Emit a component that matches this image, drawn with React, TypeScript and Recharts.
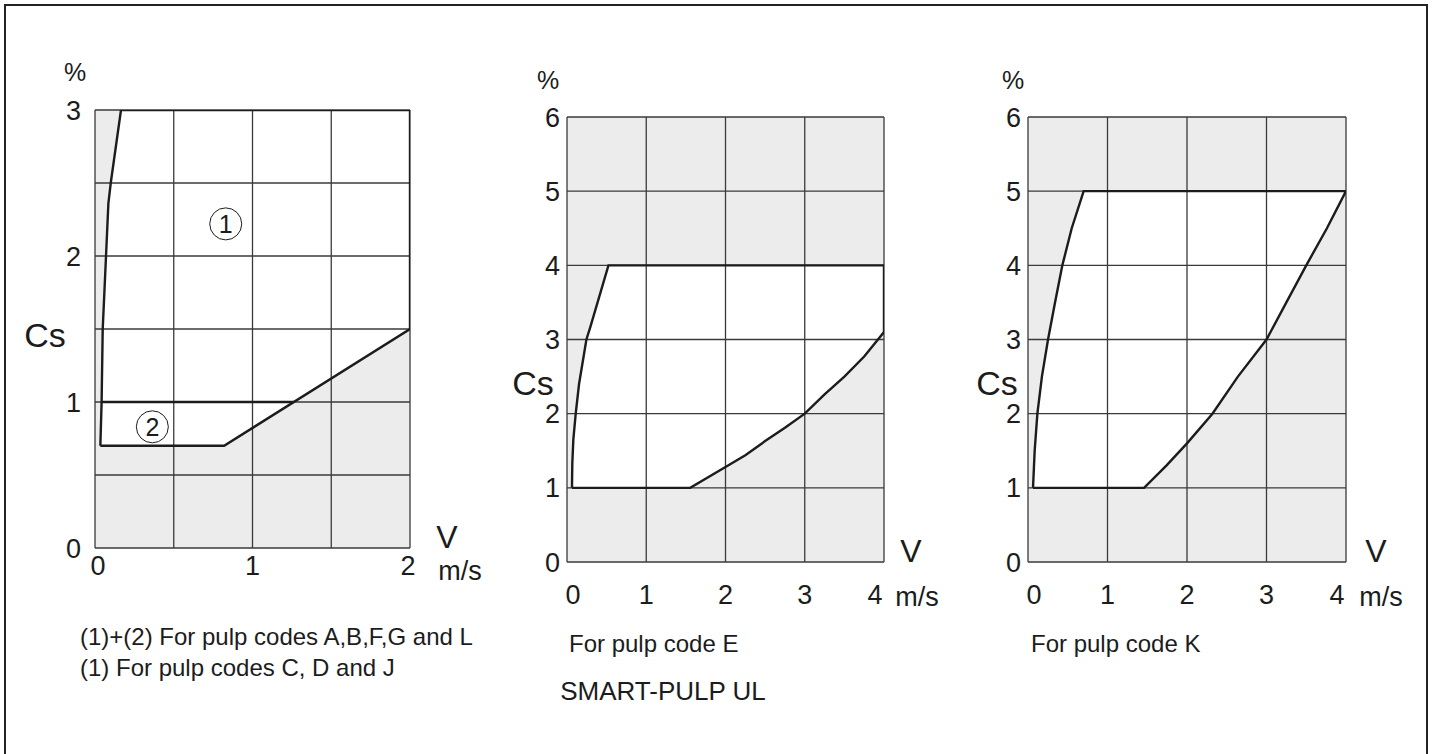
import React from "react";
import {
  ComposedChart,
  Area,
  Line,
  XAxis,
  YAxis,
  CartesianGrid,
  ReferenceLine,
  ReferenceDot,
} from "recharts";

const FONT = "'Liberation Sans', Arial, sans-serif";
const INK = "#1c1c1c";
const GRID = "#3a3a3a";
const SHADE = "#ececec";
const TICK = 27;

type BandPt = { v: number; lo: number; hi: number };

// panel 1 - V 0..2 m/s, Cs 0..3 %
const p1XTicks = [0, 1, 2];
const p1YTicks = [0, 1, 2, 3];
const p1XGrid = [0, 0.5, 1, 1.5, 2];
const p1YGrid = [0, 0.5, 1, 1.5, 2, 2.5, 3];
const p1Band: BandPt[] = [
  { v: 0.034, lo: 0.7, hi: 0.7 },
  { v: 0.042, lo: 0.7, hi: 1.0 },
  { v: 0.049, lo: 0.7, hi: 1.5 },
  { v: 0.07, lo: 0.7, hi: 2.0 },
  { v: 0.085, lo: 0.7, hi: 2.36 },
  { v: 0.1, lo: 0.7, hi: 2.5 },
  { v: 0.165, lo: 0.7, hi: 3.0 },
  { v: 0.82, lo: 0.7, hi: 3.0 },
  { v: 2.0, lo: 1.5, hi: 3.0 },
];
// border between zone (1) and zone (2)
const p1Divider = [
  { v: 0.042, cs: 1.0 },
  { v: 1.265, cs: 1.0 },
];
const p1Zones = [
  { v: 0.83, cs: 2.22, name: "1" },
  { v: 0.364, cs: 0.83, name: "2" },
];

// panel 2 - pulp code E, V 0..4 m/s, Cs 0..6 %
const p2XTicks = [0, 1, 2, 3, 4];
const p2YTicks = [0, 1, 2, 3, 4, 5, 6];
const p2Band: BandPt[] = [
  { v: 0.063, lo: 1, hi: 1 },
  { v: 0.067, lo: 1, hi: 1.33 },
  { v: 0.08, lo: 1, hi: 1.65 },
  { v: 0.11, lo: 1, hi: 2.0 },
  { v: 0.152, lo: 1, hi: 2.4 },
  { v: 0.245, lo: 1, hi: 3.0 },
  { v: 0.295, lo: 1, hi: 3.17 },
  { v: 0.523, lo: 1, hi: 4.0 },
  { v: 1.555, lo: 1, hi: 4.0 },
  { v: 2.0, lo: 1.28, hi: 4.0 },
  { v: 2.25, lo: 1.44, hi: 4.0 },
  { v: 2.5, lo: 1.63, hi: 4.0 },
  { v: 2.75, lo: 1.81, hi: 4.0 },
  { v: 3.0, lo: 2.0, hi: 4.0 },
  { v: 3.25, lo: 2.26, hi: 4.0 },
  { v: 3.5, lo: 2.5, hi: 4.0 },
  { v: 3.75, lo: 2.77, hi: 4.0 },
  { v: 4.0, lo: 3.1, hi: 4.0 },
];

// panel 3 - pulp code K
const p3XTicks = [0, 1, 2, 3, 4];
const p3YTicks = [0, 1, 2, 3, 4, 5, 6];
const p3Band: BandPt[] = [
  { v: 0.063, lo: 1, hi: 1 },
  { v: 0.084, lo: 1, hi: 1.5 },
  { v: 0.118, lo: 1, hi: 2.0 },
  { v: 0.175, lo: 1, hi: 2.5 },
  { v: 0.252, lo: 1, hi: 3.0 },
  { v: 0.34, lo: 1, hi: 3.5 },
  { v: 0.432, lo: 1, hi: 4.0 },
  { v: 0.55, lo: 1, hi: 4.5 },
  { v: 0.7, lo: 1, hi: 5.0 },
  { v: 1.46, lo: 1, hi: 5.0 },
  { v: 1.74, lo: 1.3, hi: 5.0 },
  { v: 2.0, lo: 1.6, hi: 5.0 },
  { v: 2.32, lo: 2.0, hi: 5.0 },
  { v: 2.64, lo: 2.5, hi: 5.0 },
  { v: 3.0, lo: 3.0, hi: 5.0 },
  { v: 3.25, lo: 3.5, hi: 5.0 },
  { v: 3.5, lo: 4.0, hi: 5.0 },
  { v: 3.76, lo: 4.5, hi: 5.0 },
  { v: 4.0, lo: 5.0, hi: 5.0 },
];

const captions1 = [
  "(1)+(2) For pulp codes A,B,F,G and L",
  "(1) For pulp codes C, D and J",
];
const caption2 = "For pulp code E";
const caption3 = "For pulp code K";
const title = "SMART-PULP UL";

// upper edge left to right, then lower edge back
const outlineOf = (band: BandPt[]) => [
  ...band.map((d) => ({ v: d.v, cs: d.hi })),
  ...band
    .slice()
    .reverse()
    .map((d) => ({ v: d.v, cs: d.lo })),
];

const ML = 60;
const MT = 24;
const MR = 12;
const MB = 50;

interface PanelProps {
  left: number;
  top: number;
  plotW: number;
  plotH: number;
  xMax: number;
  yMax: number;
  xTicks: number[];
  yTicks: number[];
  xGrid: number[];
  yGrid: number[];
  band: BandPt[];
  divider?: { v: number; cs: number }[];
  zones?: { v: number; cs: number; name: string }[];
  yGap: number;
  xGap: number;
  firstShift: number;
  lastShift: number;
}

function Panel(p: PanelProps) {
  const w = ML + p.plotW + MR;
  const h = MT + p.plotH + MB;
  const renderXTick = (props: any) => {
    const { x, y, payload } = props;
    const v = payload.value;
    const dx = v === 0 ? p.firstShift : v === p.xMax ? p.lastShift : 0;
    return (
      <text x={x + dx} y={y} dy="0.71em" textAnchor="middle" fill={INK} fontSize={TICK}>
        {v}
      </text>
    );
  };
  return (
    <div style={{ position: "absolute", left: p.left - ML, top: p.top - MT }}>
      <ComposedChart width={w} height={h} margin={{ top: MT, right: MR, left: 0, bottom: 0 }}>
        <CartesianGrid horizontal={false} vertical={false} fill={SHADE} fillOpacity={1} />
        <XAxis
          type="number"
          dataKey="v"
          domain={[0, p.xMax]}
          ticks={p.xTicks}
          interval={0}
          height={MB}
          axisLine={false}
          tickLine={false}
          tickSize={0}
          tickMargin={p.xGap}
          tick={renderXTick}
          allowDataOverflow
        />
        <YAxis
          type="number"
          domain={[0, p.yMax]}
          ticks={p.yTicks}
          interval={0}
          width={ML}
          axisLine={false}
          tickLine={false}
          tickSize={0}
          tickMargin={p.yGap}
          tick={{ fill: INK, fontSize: TICK }}
          allowDataOverflow
        />
        <Area
          data={p.band}
          dataKey={(d: BandPt) => [d.lo, d.hi]}
          type="linear"
          stroke="none"
          fill="#ffffff"
          fillOpacity={1}
          isAnimationActive={false}
        />
        {p.xGrid.map((g) => (
          <ReferenceLine key={"x" + g} x={g} stroke={GRID} strokeWidth={1.3} />
        ))}
        {p.yGrid.map((g) => (
          <ReferenceLine key={"y" + g} y={g} stroke={GRID} strokeWidth={1.3} />
        ))}
        <Line
          data={outlineOf(p.band)}
          dataKey="cs"
          type="linear"
          stroke={INK}
          strokeWidth={2.4}
          dot={false}
          activeDot={false}
          isAnimationActive={false}
        />
        {p.divider && (
          <Line
            data={p.divider}
            dataKey="cs"
            type="linear"
            stroke={INK}
            strokeWidth={2.4}
            dot={false}
            activeDot={false}
            isAnimationActive={false}
          />
        )}
        {p.zones?.map((z) => (
          <ReferenceDot
            key={z.name}
            x={z.v}
            y={z.cs}
            r={16}
            fill="#ffffff"
            stroke={INK}
            strokeWidth={1}
            label={{ value: z.name, position: "center", fill: INK, fontSize: 25 }}
          />
        ))}
      </ComposedChart>
    </div>
  );
}

const txt = (s: string, x: number, y: number, size: number, align: "center" | "left" = "center") => (
  <div
    style={{
      position: "absolute",
      left: x,
      top: y,
      transform: align === "center" ? "translate(-50%, -50%)" : "translate(0, -50%)",
      fontSize: size,
      color: INK,
      whiteSpace: "nowrap",
      lineHeight: 1,
    }}
  >
    {s}
  </div>
);

export default function App() {
  return (
    <div
      style={{
        position: "absolute",
        left: 0,
        top: 0,
        width: 1433,
        height: 754,
        overflow: "hidden",
        background: "#fff",
        fontFamily: FONT,
      }}
    >
      <div
        style={{
          position: "absolute",
          left: 4,
          top: 4,
          width: 1420,
          height: 820,
          border: "2px solid #222",
        }}
      />
      <Panel
        left={95}
        top={110}
        plotW={315}
        plotH={438}
        xMax={2}
        yMax={3}
        xTicks={p1XTicks}
        yTicks={p1YTicks}
        xGrid={p1XGrid}
        yGrid={p1YGrid}
        band={p1Band}
        divider={p1Divider}
        zones={p1Zones}
        yGap={14}
        xGap={8}
        firstShift={3}
        lastShift={-2}
      />
      <Panel
        left={567}
        top={117}
        plotW={317}
        plotH={445}
        xMax={4}
        yMax={6}
        xTicks={p2XTicks}
        yTicks={p2YTicks}
        xGrid={p2XTicks}
        yGrid={p2YTicks}
        band={p2Band}
        yGap={7}
        xGap={23}
        firstShift={6}
        lastShift={-9}
      />
      <Panel
        left={1028}
        top={117}
        plotW={318}
        plotH={445}
        xMax={4}
        yMax={6}
        xTicks={p3XTicks}
        yTicks={p3YTicks}
        xGrid={p3XTicks}
        yGrid={p3YTicks}
        band={p3Band}
        yGap={7}
        xGap={23}
        firstShift={6}
        lastShift={-9}
      />

      {txt("%", 75, 72, 25)}
      {txt("Cs", 45, 335, 34)}
      {txt("V", 447, 537, 32)}
      {txt("m/s", 460, 571, 27)}

      {txt("%", 548, 80, 25)}
      {txt("Cs", 533, 383, 34)}
      {txt("V", 911, 551, 32)}
      {txt("m/s", 917, 597, 27)}

      {txt("%", 1013, 80, 25)}
      {txt("Cs", 997, 383, 34)}
      {txt("V", 1376, 551, 32)}
      {txt("m/s", 1381, 597, 27)}

      {txt(captions1[0], 80, 637, 24, "left")}
      {txt(captions1[1], 80, 668, 24, "left")}
      {txt(caption2, 569, 644, 24, "left")}
      {txt(caption3, 1031, 644, 24, "left")}
      {txt(title, 663, 691, 26)}
    </div>
  );
}
